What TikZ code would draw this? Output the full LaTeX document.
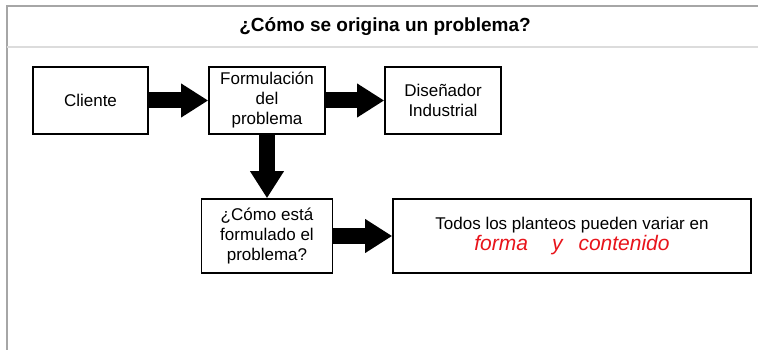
\documentclass[tikz,border=0pt]{standalone}
\usepackage{fontspec}
\setmainfont{Liberation Sans}
\usetikzlibrary{arrows.meta}
\definecolor{cframe}{HTML}{A6A6A6}
\definecolor{cband}{HTML}{DCDCDC}
\definecolor{cred}{HTML}{E8141B}
\tikzset{
  every picture/.style={line width=1.6pt},
  box/.style={draw=black, fill=white, align=center, inner sep=2pt, font=\fontsize{17}{20}\selectfont},
  fat/.style={-{Triangle[length=27pt, width=32pt]}, line width=16pt},
  title/.style={font=\fontsize{19}{22}\selectfont\bfseries},
}

\begin{document}
\begin{tikzpicture}[x=1pt, y=-1pt,
  stage/.style={box, minimum width=#1, minimum height=67pt},
  query/.style={box, minimum width=#1, minimum height=74pt}]
  \useasboundingbox (0,0) rectangle (758,350);
  \draw[cframe, line width=1.2pt] (7,350) -- (7,6) -- (758,6);
  \draw[cband, line width=2pt] (7,47) -- (758,47);
  \node[title] (head) at (385,27) {¿Cómo se origina un problema?};
  \node[stage=115pt] (cliente) at (90.5,100.5) {Cliente};
  \node[stage=116pt] (formulacion) at (267,100.5) {Formulación\\del\\problema};
  \node[stage=116pt] (disenador) at (443,100.5) {Diseñador\\Industrial};
  \node[query=131pt] (como) at (267,236) {¿Cómo está\\formulado el\\problema?};
  \node[query=358pt] (todos) at (572,236) {Todos los planteos pueden variar en\\[1pt]
    {\fontsize{21}{24}\selectfont\itshape\color{cred}forma\hspace{24pt}y\hspace{16pt}contenido}};
  \draw[fat] (cliente) -- (formulacion);
  \draw[fat] (formulacion) -- (disenador);
  \draw[fat] (formulacion) -- (como);
  \draw[fat] (como) -- (todos);
\end{tikzpicture}
\end{document}
